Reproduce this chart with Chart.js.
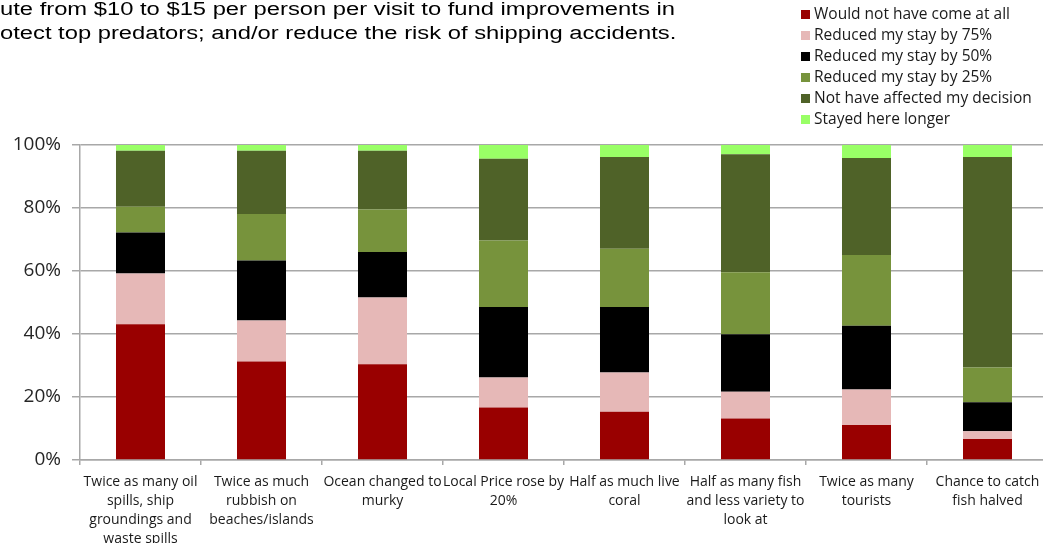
<!DOCTYPE html>
<html>
  <head>
    <meta charset="utf-8">
    <title>Visitor response to reef changes</title>
    <script src="https://cdn.jsdelivr.net/npm/chart.js@4.4.1/dist/chart.umd.min.js"></script>
    <style>
      html, body { margin: 0; padding: 0; background: #fff; overflow: hidden; width: 1043px; height: 543px; }
      #wrap { position: absolute; left: 0; top: 0; width: 1048px; height: 543px; }
      #intro { position: absolute; left: 0; top: -3px; font-family: "Liberation Sans", Arial, sans-serif; font-size: 18px; line-height: 24px; color: #000; white-space: nowrap; transform: scaleX(1.32); transform-origin: 0 0; }
      #legend { position: absolute; left: 801px; top: 3px; font-family: "Open Sans", sans-serif; font-size: 15.5px; color: #1a1a1a; }
      #legend div { height: 21px; line-height: 21px; white-space: nowrap; }
      #legend span { display: inline-block; width: 9px; height: 9px; margin-right: 4px; vertical-align: 0px; }
    </style>
  </head>
  <body>
    <div id="wrap"><canvas id="chart"></canvas></div>
    <div id="intro">ute from $10 to $15 per person per visit to fund improvements in<br/>otect top predators; and/or reduce the risk of shipping accidents.</div>
    <div id="legend"></div>

    <script type="text/javascript">
      var categories = [
        ["Twice as many oil", "spills, ship", "groundings and", "waste spills"],
        ["Twice as much", "rubbish on", "beaches/islands"],
        ["Ocean changed to", "murky"],
        ["Local Price rose by", "20%"],
        ["Half as much live", "coral"],
        ["Half as many fish", "and less variety to", "look at"],
        ["Twice as many", "tourists"],
        ["Chance to catch", "fish halved"]
      ];
      var seriesNames = [
        "Would not have come at all",
        "Reduced my stay by 75%",
        "Reduced my stay by 50%",
        "Reduced my stay by 25%",
        "Not have affected my decision",
        "Stayed here longer"
      ];
      var seriesColors = ["#990000", "#e6b8b7", "#000000", "#77933c", "#4f6228", "#99ff66"];

      // share of respondents (%) per scenario
      var wouldNotCome = [43.1, 31.3, 30.4, 16.7, 15.3, 13.2, 11.1, 6.7];
      var reduced75    = [16.1, 13.0, 21.2, 9.5, 12.5, 8.5, 11.3, 2.4];
      var reduced50    = [13.0, 19.0, 14.4, 22.4, 20.8, 18.2, 20.2, 9.2];
      var reduced25    = [8.2, 14.8, 13.5, 21.1, 18.5, 19.7, 22.5, 11.1];
      var notAffected  = [17.8, 20.1, 18.7, 25.9, 29.1, 37.5, 30.8, 66.8];
      var stayedLonger = [1.8, 1.8, 1.8, 4.4, 3.8, 2.9, 4.1, 3.8];

      var yTicks = [0, 20, 40, 60, 80, 100];

      var seriesData = [wouldNotCome, reduced75, reduced50, reduced25, notAffected, stayedLonger];
      var datasets = seriesData.map(function (vals, i) {
        return {
          label: seriesNames[i],
          data: vals,
          backgroundColor: seriesColors[i],
          borderWidth: 0,
          categoryPercentage: 1.0,
          barPercentage: 0.405
        };
      });

      var GRID = "#a8a8a8";

      var chart = new Chart(document.getElementById("chart"), {
        type: "bar",
        data: { labels: categories, datasets: datasets },
        options: {
          responsive: true,
          maintainAspectRatio: false,
          animation: false,
          layout: { padding: { top: 145, left: 0, right: 0, bottom: 0 } },
          plugins: { legend: { display: false }, tooltip: { enabled: false } },
          scales: {
            x: {
              stacked: true,
              afterFit: function (scale) { scale.height = 83; },
              border: { color: GRID, width: 1.5 },
              grid: { drawOnChartArea: false, offset: true, tickLength: 5, color: GRID, lineWidth: 1.5 },
              ticks: {
                autoSkip: false, maxRotation: 0, minRotation: 0, padding: 7,
                color: "#1a1a1a",
                font: { family: "Open Sans", size: 14, lineHeight: 1.37 }
              }
            },
            y: {
              stacked: true,
              min: 0, max: 100,
              afterFit: function (scale) { scale.width = 80; },
              afterBuildTicks: function (scale) { scale.ticks = yTicks.map(function (v) { return { value: v }; }); },
              border: { color: GRID, width: 1.5 },
              grid: { color: GRID, lineWidth: 1.5, tickLength: 8 },
              ticks: {
                padding: 11,
                color: "#262626",
                font: { family: "Open Sans", size: 19 },
                callback: function (v) { return v + "%"; }
              }
            }
          }
        }
      });

      // legend list built from the chart's own datasets
      var legend = document.getElementById("legend");
      chart.data.datasets.forEach(function (ds) {
        var row = document.createElement("div");
        var sw = document.createElement("span");
        sw.style.background = ds.backgroundColor;
        row.appendChild(sw);
        row.appendChild(document.createTextNode(ds.label));
        legend.appendChild(row);
      });
    </script>
  </body>
</html>
